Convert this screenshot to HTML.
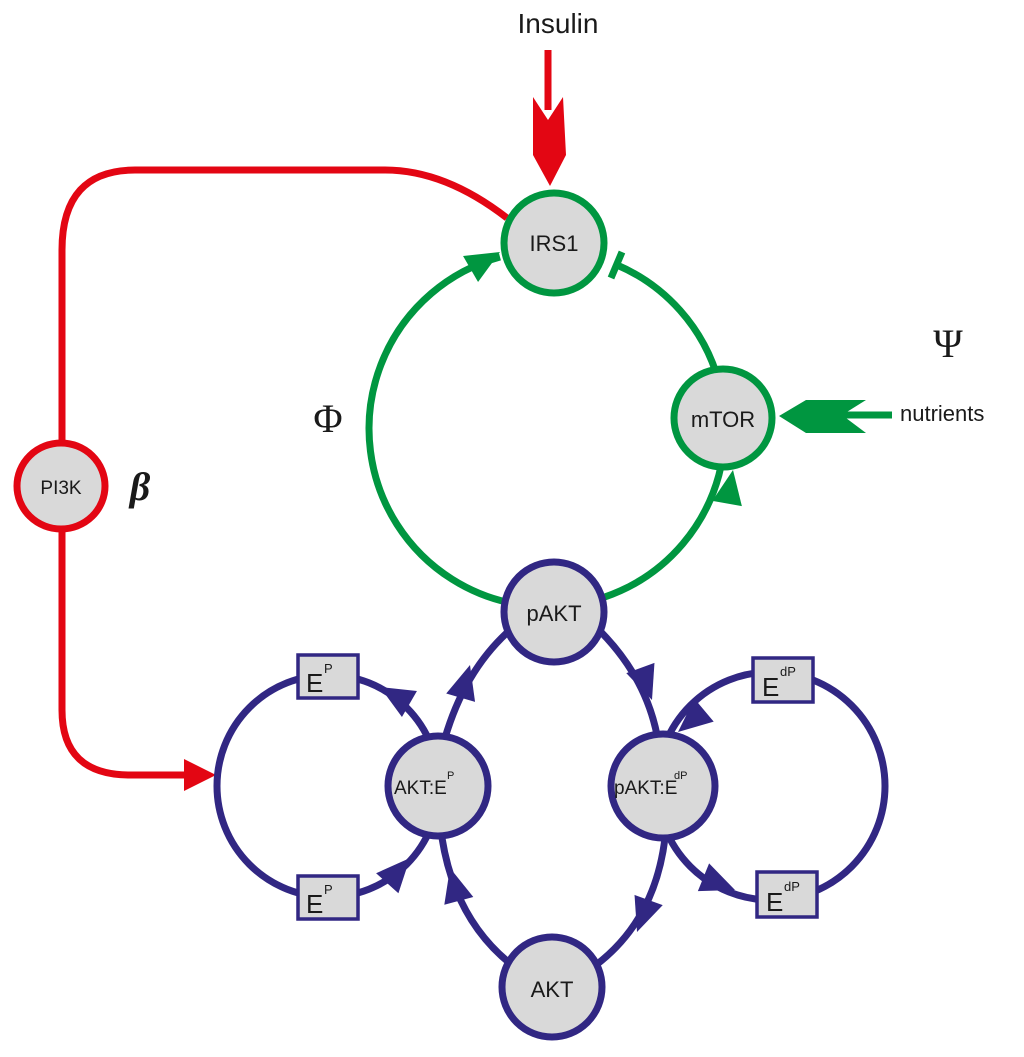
<!DOCTYPE html>
<html><head><meta charset="utf-8"><style>
html,body{margin:0;padding:0;background:#fff;}
svg{display:block;}
text{font-family:"Liberation Sans",sans-serif;fill:#1a1a1a;}
</style></head><body>
<svg width="1024" height="1057" viewBox="0 0 1024 1057" xmlns="http://www.w3.org/2000/svg">
<defs>
<polygon id="ah" points="0,0 -34,-15 -34,15"/>
</defs>
<!-- red PI3K loop -->
<g fill="none" stroke="#e30613" stroke-width="7">
<path d="M62,445 L62,250 Q62,170 135,170 L385,170 Q445,170 507,218"/>
<path d="M62,530 L62,710 Q62,775 130,775 L190,775"/>
<line x1="548" y1="50" x2="548" y2="110"/>
</g>
<polygon fill="#e30613" points="216,775 184,759 184,791"/>
<!-- insulin arrow -->
<polygon fill="#e30613" points="533,97 548,120 563,97 566,155 550,186 533,155"/>
<!-- nutrients -->
<line x1="835" y1="415" x2="892" y2="415" stroke="#009640" stroke-width="7"/>
<polygon fill="#009640" points="779,416 806,400 866,400 842,415 866,433 806,433"/>
<!-- green circle -->
<path d="M617,265 A178,178 0 1 1 500,257" fill="none" stroke="#009640" stroke-width="7"/>
<line x1="611" y1="278" x2="622" y2="252" stroke="#009640" stroke-width="7"/>
<use href="#ah" fill="#009640" transform="translate(500,252) rotate(-30)"/>
<use href="#ah" fill="#009640" transform="translate(733,470) rotate(-80)"/>
<!-- blue loops -->
<g fill="none" stroke="#312783" stroke-width="7">
<circle cx="328" cy="786" r="111"/>
<circle cx="771" cy="786" r="114"/>
<path d="M445,738 Q465,670 510,630"/>
<path d="M442,838 Q455,920 512,965"/>
<path d="M597,628 Q645,675 657,735"/>
<path d="M665,838 Q655,920 596,965"/>
</g>
<g fill="#312783">
<use href="#ah" transform="translate(380,687) rotate(-150)"/>
<use href="#ah" transform="translate(410,858) rotate(-48)"/>
<use href="#ah" transform="translate(470,665) rotate(-74)"/>
<use href="#ah" transform="translate(450,868) rotate(-105)"/>
<use href="#ah" transform="translate(652,700) rotate(70)"/>
<use href="#ah" transform="translate(637,932) rotate(110)"/>
<use href="#ah" transform="translate(678,732) rotate(140)"/>
<use href="#ah" transform="translate(735,890) rotate(22)"/>
</g>
<!-- boxes -->
<g fill="#d9d9d9" stroke="#312783" stroke-width="3.5">
<rect x="298" y="655" width="60" height="43"/>
<rect x="298" y="876" width="60" height="43"/>
<rect x="753" y="658" width="60" height="44"/>
<rect x="757" y="872" width="60" height="45"/>
</g>
<g font-size="26">
<text x="306" y="692">E</text><text x="324" y="673" font-size="13">P</text>
<text x="306" y="913">E</text><text x="324" y="894" font-size="13">P</text>
<text x="762" y="696">E</text><text x="780" y="676" font-size="13">dP</text>
<text x="766" y="911">E</text><text x="784" y="891" font-size="13">dP</text>
</g>
<!-- nodes -->
<g fill="#d9d9d9" stroke-width="7">
<circle cx="554" cy="243" r="50" stroke="#009640"/>
<circle cx="723" cy="418" r="49" stroke="#009640"/>
<circle cx="554" cy="612" r="50" stroke="#312783"/>
<circle cx="438" cy="786" r="50" stroke="#312783"/>
<circle cx="663" cy="786" r="52" stroke="#312783"/>
<circle cx="552" cy="987" r="50" stroke="#312783"/>
<ellipse cx="61" cy="486" rx="44" ry="43" stroke="#e30613"/>
</g>
<g font-size="22" text-anchor="middle">
<text x="554" y="251">IRS1</text>
<text x="723" y="427">mTOR</text>
<text x="554" y="621">pAKT</text>
<text x="552" y="997">AKT</text>
<text x="61" y="494" font-size="19">PI3K</text>
</g>
<text x="394" y="794" font-size="19">AKT:E</text><text x="447" y="779" font-size="11">P</text>
<text x="614" y="794" font-size="19">pAKT:E</text><text x="674" y="779" font-size="11">dP</text>
<text x="558" y="33" font-size="28" text-anchor="middle">Insulin</text>
<text x="900" y="421" font-size="22">nutrients</text>
<text x="328" y="432" font-size="40" text-anchor="middle" style="font-family:'Liberation Serif',serif">Φ</text>
<text x="948" y="357" font-size="40" text-anchor="middle" style="font-family:'Liberation Serif',serif">Ψ</text>
<text x="140" y="500" font-size="40" font-weight="bold" font-style="italic" text-anchor="middle" style="font-family:'Liberation Serif',serif">β</text>
</svg>
</body></html>
